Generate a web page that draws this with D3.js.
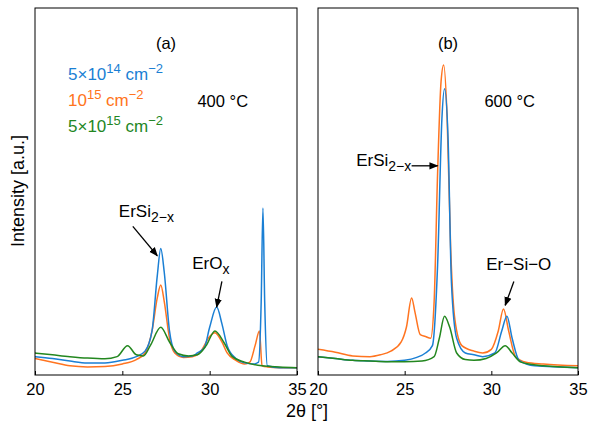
<!DOCTYPE html>
<html><head><meta charset="utf-8">
<script src="https://cdn.jsdelivr.net/npm/d3@7"></script>
<style>body{margin:0;background:#fff}text{font-family:"Liberation Sans",Arial,sans-serif}</style>
</head><body><svg id="c" width="589" height="433"></svg>
<script>
const xTicks = [20, 25, 30, 35];
const blue400 = [[20,5],[21,4.5],[22,3.8],[23,3.3],[24,3.3],[25,4],[25.8,5],[26.3,6.5],[26.7,12],[27,27],[27.2,34.5],[27.4,28],[27.7,12],[28,6.5],[28.5,5],[29,5.2],[29.3,6],[29.7,7.5],[30,13],[30.4,18.5],[30.7,14],[31,8],[31.5,4.5],[32,3.3],[32.5,3],[32.8,3.5],[32.95,20],[33.05,45.5],[33.15,20],[33.3,2.5],[34,2],[35,2]];
const orange400 = [[20,4.5],[21,3.5],[22,2.5],[23,2.2],[24,2.3],[25,3],[25.8,4.2],[26.3,6],[26.7,12],[27,21],[27.2,24.5],[27.4,20],[27.7,10],[28,6],[28.5,4.8],[29,5],[29.5,6.5],[30,10.5],[30.3,11.5],[30.7,9],[31,6],[31.5,4],[32,3],[32.3,3.5],[32.6,8],[32.85,12],[33,2.5],[33.3,2.2],[34,2],[35,2]];
const green400 = [[20,6],[21,5.5],[22,5],[23,4.6],[24,4.4],[24.7,5],[25.3,8],[25.8,5.5],[26.2,5.2],[26.6,8],[27.2,13],[27.7,9],[28.2,5.8],[28.8,5.2],[29.3,5.5],[29.8,8],[30.3,12],[30.8,9],[31.3,5],[32,3.5],[33,2.5],[34,2.2],[35,2]];
const blue600 = [[20,5],[21,4.5],[22,4],[23,3.8],[24,3.7],[25,4],[25.7,4.8],[26.2,6],[26.6,8],[26.9,30],[27.15,70],[27.3,78],[27.5,65],[27.7,25],[28,10],[28.5,6],[29,5.5],[29.5,5],[30.2,6],[30.6,12],[30.9,16],[31.2,10],[31.6,4],[32.5,2.5],[35,2]];
const orange600 = [[20,7],[21,6.2],[22,5.2],[23,5],[23.6,5.5],[24.2,6.5],[24.8,9],[25.1,13],[25.4,21],[25.6,17],[25.9,11],[26.2,10.5],[26.5,10],[26.7,20],[26.9,55],[27.1,80],[27.25,84.5],[27.45,70],[27.65,35],[27.9,15],[28.3,8],[29,6.5],[29.5,6],[30,7],[30.4,12],[30.7,18],[31,12],[31.4,5],[32,3.5],[33,3],[35,2.5]];
const green600 = [[20,5],[21,4.5],[22,4],[23,3.8],[24,3.6],[25,3.6],[26,3.8],[26.7,5],[27,10],[27.3,16],[27.6,13],[28,6],[28.5,4.2],[29,4],[29.7,4.5],[30.3,6],[30.8,8],[31.2,6],[31.7,3.5],[33,2.5],[35,2]];
const BLUE = "#1a7fd4", ORANGE = "#ff7420", GREEN = "#23871f";
const legend = [["5×10","14"," cm","−2",BLUE],["10","15"," cm","−2",ORANGE],["5×10","15"," cm","−2",GREEN]];

const svg = d3.select("#c");
const yTop = 8, yBot = 375;
const y = d3.scaleLinear().domain([0, 100]).range([yBot, yTop]);
const defs = svg.append("defs");
defs.append("marker").attr("id","ah").attr("viewBox","0 0 10 10").attr("refX",9).attr("refY",5)
  .attr("markerWidth",7).attr("markerHeight",7).attr("orient","auto")
  .append("path").attr("d","M0,1L10,5L0,9z").attr("fill","#000");

function panel(x0, x1, series, label, temp, notes) {
  const x = d3.scaleLinear().domain([20, 35]).range([x0, x1]);
  const id = "clip" + x0;
  defs.append("clipPath").attr("id", id).append("rect").attr("x", x0).attr("y", yTop).attr("width", x1 - x0).attr("height", yBot - yTop);
  const line = d3.line().x(d => x(d[0])).y(d => y(d[1])).curve(d3.curveMonotoneX);
  const g = svg.append("g").attr("clip-path", `url(#${id})`);
  series.forEach(s => g.append("path").attr("d", line(s[0])).attr("fill", "none")
    .attr("stroke", s[1]).attr("stroke-width", 1.5));
  svg.append("rect").attr("x", x0).attr("y", yTop).attr("width", x1 - x0).attr("height", yBot - yTop)
    .attr("fill", "none").attr("stroke", "#000").attr("stroke-width", 1);
  const ax = svg.append("g").attr("transform", `translate(0,${yBot})`)
    .call(d3.axisBottom(x).tickValues(xTicks).tickSize(-4).tickPadding(8));
  ax.select(".domain").remove();
  ax.selectAll("text").attr("font-size", 16.5).attr("fill", "#000");
  svg.append("text").attr("x", (x0 + x1) / 2).attr("y", 49).attr("text-anchor", "middle").attr("font-size", 16.5).text(label);
  svg.append("text").attr("x", x(temp[0])).attr("y", 107).attr("font-size", 16.5).text(temp[1]);
  notes.forEach(n => {
    const t = svg.append("text").attr("x", x(n.tx)).attr("y", y(n.ty)).attr("font-size", 17);
    t.append("tspan").text(n.main);
    if (n.sub) t.append("tspan").attr("dy", 5).attr("font-size", 14).text(n.sub);
    svg.append("line").attr("x1", x(n.a[0])).attr("y1", y(n.a[1])).attr("x2", x(n.a[2])).attr("y2", y(n.a[3]))
      .attr("stroke", "#000").attr("stroke-width", 1.3).attr("marker-end", "url(#ah)");
  });
}

panel(35, 297, [[orange400, ORANGE], [blue400, BLUE], [green400, GREEN]], "(a)", [29.3, "400 °C"], [
  {tx: 24.8, ty: 43, main: "ErSi", sub: "2−x", a: [25.6, 40.5, 27.0, 32.5]},
  {tx: 29.0, ty: 29, main: "ErO", sub: "x", a: [30.7, 25.5, 30.4, 18.5]}
]);
panel(318, 578, [[orange600, ORANGE], [blue600, BLUE], [green600, GREEN]], "(b)", [29.6, "600 °C"], [
  {tx: 22.2, ty: 57, main: "ErSi", sub: "2−x", a: [25.4, 57, 26.9, 57]},
  {tx: 29.7, ty: 28.5, main: "Er−Si−O", a: [31.3, 25.5, 30.8, 19]}
]);

legend.forEach((l, i) => {
  const t = svg.append("text").attr("x", 68).attr("y", 80 + i * 26).attr("font-size", 17).attr("fill", l[4]);
  t.append("tspan").text(l[0]);
  t.append("tspan").attr("dy", -7).attr("font-size", 13).text(l[1]);
  t.append("tspan").attr("dy", 7).text(l[2]);
  t.append("tspan").attr("dy", -7).attr("font-size", 13).text(l[3]);
});
svg.append("text").attr("transform", "translate(24,191) rotate(-90)").attr("text-anchor", "middle").attr("font-size", 18).text("Intensity [a.u.]");
svg.append("text").attr("x", 307).attr("y", 417).attr("text-anchor", "middle").attr("font-size", 18).text("2θ [°]");
</script></body></html>
